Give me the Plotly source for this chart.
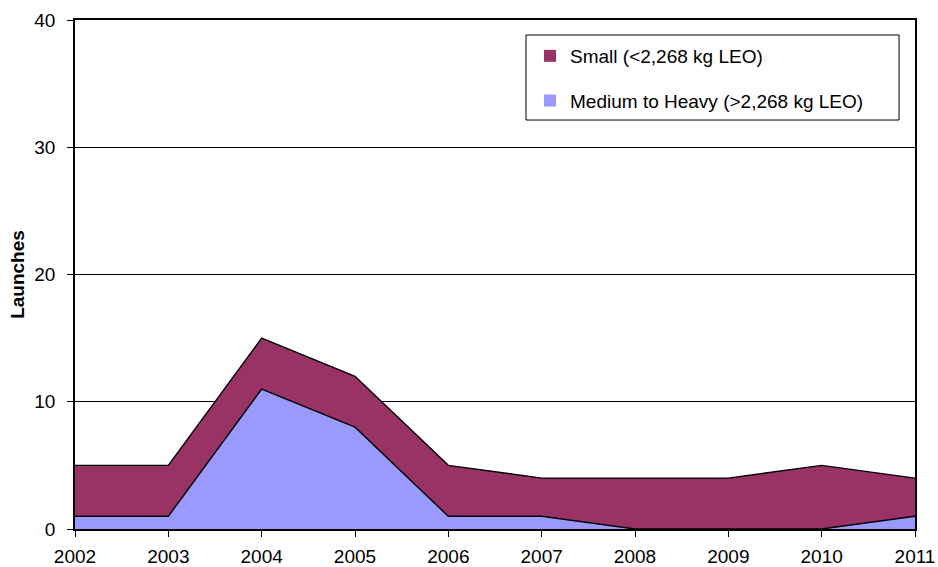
import plotly.graph_objects as go

years = [2002, 2003, 2004, 2005, 2006, 2007, 2008, 2009, 2010, 2011]
medium_heavy = [1, 1, 11, 8, 1, 1, 0, 0, 0, 1]
small = [4, 4, 4, 4, 4, 3, 4, 4, 5, 3]

y_ticks = [0, 10, 20, 30, 40]

SMALL_NAME = "Small (<2,268 kg LEO)"
MEDIUM_NAME = "Medium to Heavy (>2,268 kg LEO)"
SMALL_COLOR = "#993366"
MEDIUM_COLOR = "#9999FF"

FONT = "Liberation Sans, Arial, sans-serif"
FS = 19

fig = go.Figure()

# stacked areas: medium/heavy on the bottom, small on top
fig.add_trace(go.Scatter(
    x=years, y=medium_heavy, name=MEDIUM_NAME,
    stackgroup="launches", mode="lines",
    line=dict(color="black", width=1.4), fillcolor=MEDIUM_COLOR,
    showlegend=False,
))
fig.add_trace(go.Scatter(
    x=years, y=small, name=SMALL_NAME,
    stackgroup="launches", mode="lines",
    line=dict(color="black", width=1.4), fillcolor=SMALL_COLOR,
    showlegend=False,
))

# square swatches for the legend
for grp, name, color in [("a", SMALL_NAME, SMALL_COLOR), ("b", MEDIUM_NAME, MEDIUM_COLOR)]:
    fig.add_trace(go.Scatter(
        x=[None], y=[None], name=name, mode="markers",
        marker=dict(symbol="square", size=12, color=color, line=dict(width=0)),
        legendgroup=grp, showlegend=True,
    ))

fig.update_layout(
    width=938, height=567,
    margin=dict(l=75, r=23, t=20, b=38),
    paper_bgcolor="white", plot_bgcolor="white",
    font=dict(family=FONT, size=FS, color="black"),
    showlegend=True,
    legend=dict(
        x=0.5417, y=0.9666, xanchor="left", yanchor="top",
        bgcolor="rgba(0,0,0,0)", borderwidth=0,
        traceorder="grouped", tracegroupgap=17,
        font=dict(family=FONT, size=FS, color="black"),
    ),
    shapes=[dict(
        type="rect", xref="paper", yref="paper",
        x0=0.5369, x1=0.981, y0=0.8035, y1=0.9705,
        line=dict(color="black", width=1), fillcolor="white", layer="above",
    )],
    xaxis=dict(
        range=[2002, 2011], tickmode="array", tickvals=years,
        ticktext=[str(y) for y in years],
        showgrid=False, zeroline=False, automargin=False,
        showline=True, linecolor="black", linewidth=1.5, mirror=True,
        ticks="outside", ticklen=6, tickcolor="black", tickwidth=1,
        ticklabelstandoff=3,
        tickfont=dict(size=FS),
    ),
    yaxis=dict(
        range=[0, 40], tickmode="array", tickvals=y_ticks,
        showgrid=True, gridcolor="black", gridwidth=1, zeroline=False,
        automargin=False,
        showline=True, linecolor="black", linewidth=1.5, mirror=True,
        ticks="outside", ticklen=6, tickcolor="black", tickwidth=1,
        ticklabelstandoff=8,
        tickfont=dict(size=FS),
        title=dict(text="<b>Launches</b>", font=dict(size=FS), standoff=5),
    ),
)

fig.write_html("out.html")
